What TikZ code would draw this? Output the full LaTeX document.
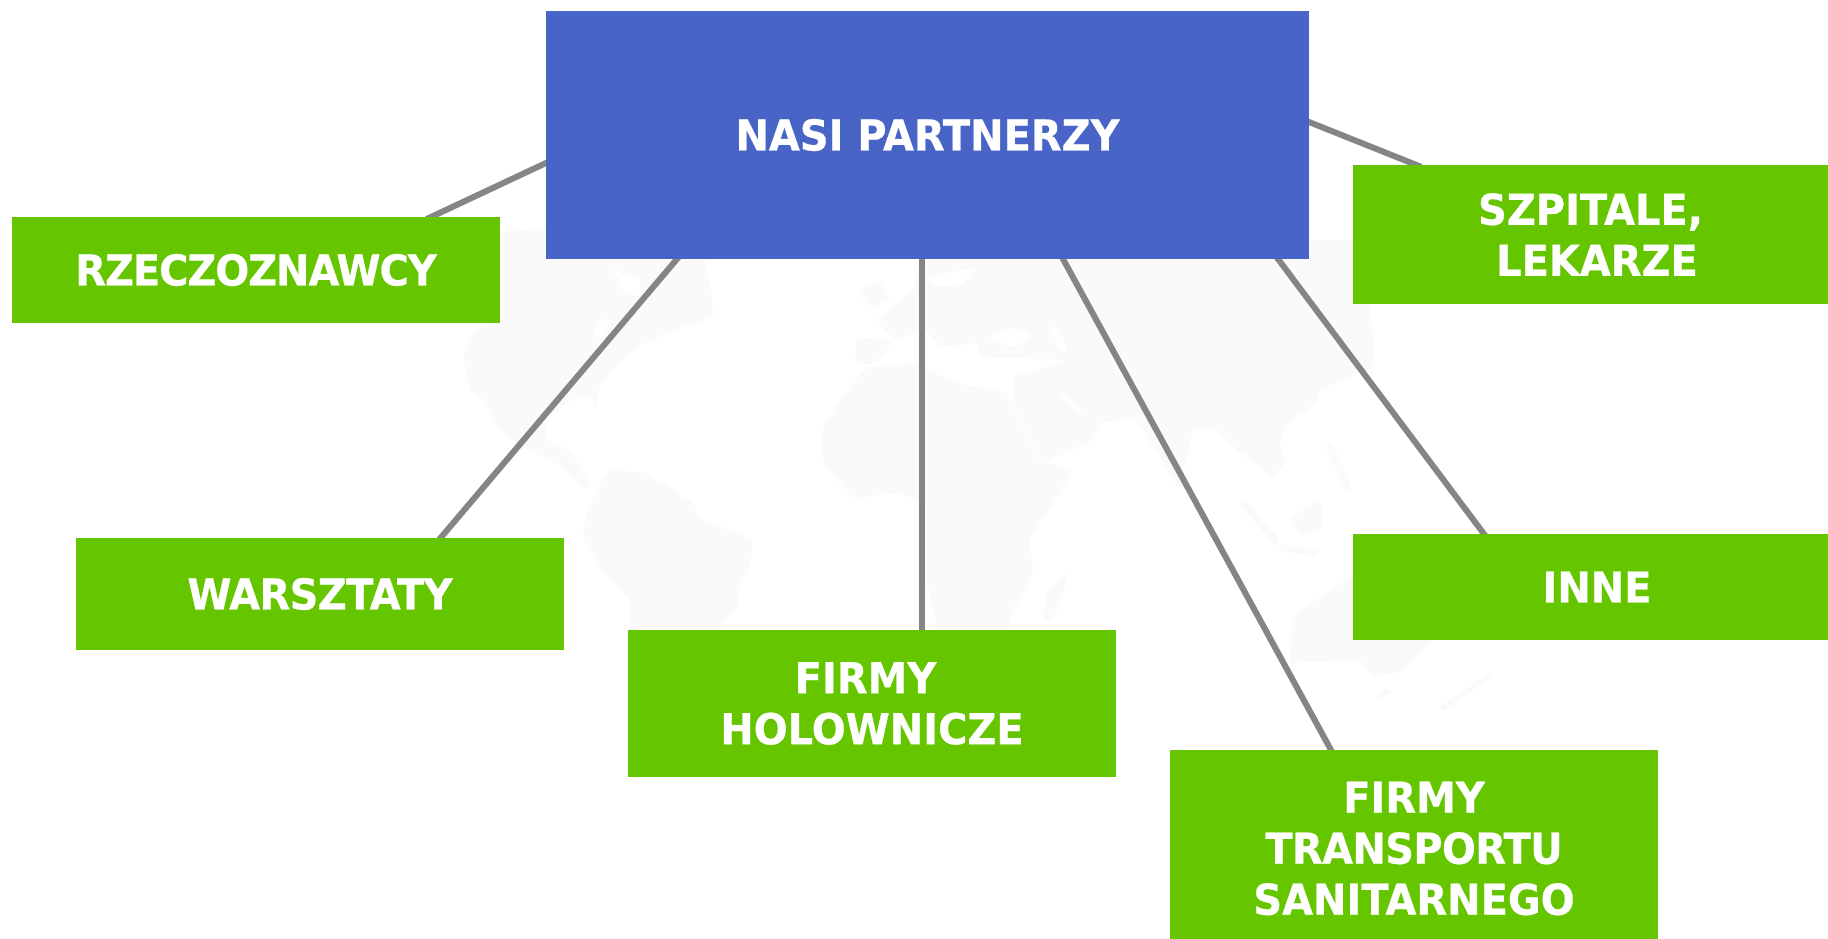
\documentclass[tikz,border=0pt]{standalone}
\usepackage{fontspec}
\usetikzlibrary{calc}
\setmainfont[FakeStretch=0.94,BoldFeatures={FakeStretch=0.94,FakeBold=0.6}]{DejaVu Sans}
\definecolor{hubblue}{HTML}{4864C6}
\definecolor{boxgreen}{HTML}{65C600}
\definecolor{linkgray}{HTML}{858585}
\definecolor{mapgray}{HTML}{FAFAFA}
\newcommand{\tr}{\hspace*{13pt}}
\newcommand{\tightlabel}[2]{{\addfontfeature{LetterSpace=#1}#2}}
\pgfdeclarelayer{maplayer}
\pgfdeclarelayer{linklayer}
\pgfsetlayers{maplayer,linklayer,main}
\tikzset{
  every node/.style={font=\fontsize{42.5pt}{51pt}\selectfont\bfseries, text=white, align=center, inner sep=0pt, outer sep=0pt},
  hubbox/.style={rectangle, fill=hubblue, minimum width=763pt, minimum height=248pt},
  partner/.style={rectangle, fill=boxgreen, minimum width=488pt},
  link/.style={draw=linkgray, line width=6pt, shorten >=-5pt, shorten <=-5pt},
  land/.style={fill=mapgray, draw=none, rounded corners=3pt},
  sea/.style={fill=white, draw=none, rounded corners=3pt},
  strait/.style={draw=white, line width=3pt, line cap=round},
  isle/.style={draw=mapgray, line width=7pt, line cap=round}
}
\begin{document}
\begin{tikzpicture}[x=1pt,y=-1pt]
\useasboundingbox (0,0) rectangle (1828,939);
\begin{pgfonlayer}{maplayer}
\fill[white] (0,0) rectangle (1828,939);
% world map watermark
\fill[land] (500,232)--(546,228)--(700,240)--(712,297)--(713,317)--(680,328)--(640,345)--(620,362)--(600,385)--(596,410)--(590,395)--(570,400)--(545,420)--(545,440)--(570,450)--(590,485)--(585,490)--(560,465)--(520,445)--(500,430)--(485,400)--(470,390)--(463,355)--(475,330)--(500,320)--cycle;
\fill[sea] (613,270)--(640,280)--(640,297)--(622,290)--cycle;
\fill[sea] (593,333)--(603,317)--(610,322)--(600,340)--cycle;
\fill[land] (597,490)--(610,470)--(647,473)--(693,503)--(700,518)--(753,540)--(750,563)--(740,583)--(737,607)--(707,640)--(630,640)--(630,600)--(603,573)--(583,537)--(585,517)--cycle;
\fill[land] (823,427)--(850,387)--(867,367)--(913,363)--(957,383)--(1007,393)--(1040,460)--(1073,470)--(1057,497)--(1030,537)--(1033,573)--(1010,617)--(1007,640)--(940,640)--(927,583)--(927,503)--(897,493)--(853,498)--(823,463)--cycle;
\fill[land] (1067,572)--(1063,597)--(1050,623)--(1043,617)--(1048,590)--cycle;
\fill[land] (858,290)--(880,280)--(890,300)--(870,307)--cycle;
\fill[land] (857,337)--(893,340)--(883,357)--(867,365)--(855,360)--cycle;
\fill[land] (927,240)--(1360,240)--(1373,333)--(1373,367)--(1350,377)--(1320,390)--(1317,403)--(1285,425)--(1280,443)--(1285,463)--(1273,478)--(1247,457)--(1233,447)--(1213,427)--(1193,430)--(1180,490)--(1153,447)--(1133,417)--(1100,423)--(1093,440)--(1043,463)--(1013,403)--(1013,377)--(1067,360)--(980,357)--(977,343)--(940,347)--(927,330)--(893,340)--(877,320)--(913,290)--cycle;
\fill[sea] (987,337)--(1017,327)--(1033,337)--(1013,347)--cycle;
\fill[sea] (1050,327)--(1058,327)--(1067,350)--(1060,352)--cycle;
\fill[sea] (927,277)--(977,267)--(960,285)--(935,287)--cycle;
\draw[strait] (1060,393)--(1080,412);
\draw[isle] (1243,503)--(1275,540);
\draw[isle] (1282,547)--(1315,553);
\draw[isle] (1330,447)--(1348,487);
\fill[land] (1290,517)--(1320,500)--(1323,528)--(1300,535)--cycle;
\fill[land] (1293,617)--(1350,577)--(1400,560)--(1450,620)--(1430,643)--(1400,672)--(1373,677)--(1360,660)--(1290,663)--cycle;
\draw[isle,line width=5pt] (1443,708)--(1490,675);
\draw[isle,line width=5pt] (1379,696)--(1388,691);
\end{pgfonlayer}
% boxes
\node[hubbox] (hub) at (927.5,135) {NASI PARTNERZY};
\node[partner, minimum height=106pt] (rzecz) at (256,270) {\tightlabel{-2.5}{RZECZOZNAWCY}};
\node[partner, minimum height=112pt] (warsz) at (320,594) {\tightlabel{-1.4}{WARSZTATY}};
\node[partner, minimum height=147pt] (holow) at (872,703.5) {FIRMY\tr\\HOLOWNICZE};
\node[partner, minimum height=197pt] (trans) at (1414,848.5) {FIRMY\\\tightlabel{-1.5}{TRANSPORTU}\\SANITARNEGO};
\node[partner, minimum height=139pt] (szpit) at (1597,234.5) {SZPITALE,\tr\\LEKARZE};
\node[partner, minimum height=106pt] (inne) at (1597,587) {INNE};
% connectors
\begin{pgfonlayer}{linklayer}
\draw[link] ($(hub.north west)+(0,152)$) -- ($(rzecz.north west)+(419,0)$);
\draw[link] ($(hub.south west)+(131,0)$) -- ($(warsz.north west)+(364.5,0)$);
\draw[link] ($(hub.south west)+(376,0)$) -- ($(holow.north west)+(294,0)$);
\draw[link] ($(hub.south west)+(517,0)$) -- ($(trans.north west)+(161,0)$);
\draw[link] ($(hub.south west)+(732,0)$) -- ($(inne.north west)+(131,0)$);
\draw[link] ($(hub.north east)+(0,111)$) -- ($(szpit.north west)+(63.5,0)$);
\end{pgfonlayer}
\end{tikzpicture}
\end{document}
